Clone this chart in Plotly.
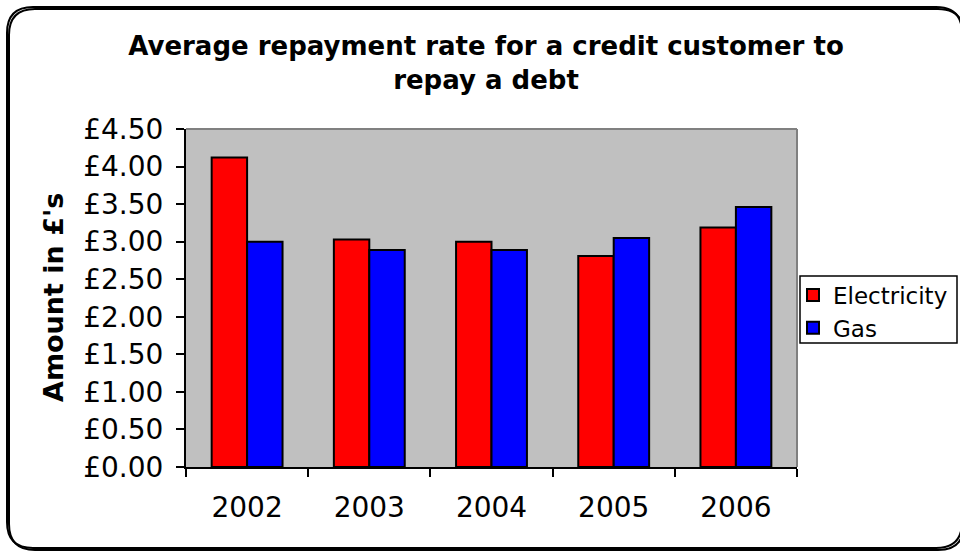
import plotly.graph_objects as go

# Chart data
years = ["2002", "2003", "2004", "2005", "2006"]
electricity = [4.12, 3.03, 3.00, 2.81, 3.19]
gas = [3.00, 2.89, 2.89, 3.05, 3.46]

y_ticks = [0.0, 0.5, 1.0, 1.5, 2.0, 2.5, 3.0, 3.5, 4.0, 4.5]
y_tick_labels = [f"£{v:.2f}" for v in y_ticks]

W, H = 960, 551
ML, MR, MT, MB = 186, 163, 129, 84
PW, PH = W - ML - MR, H - MT - MB

FONT = "DejaVu Sans, Verdana, sans-serif"


def px(x):
    return (x - ML) / PW


def py(y):
    return (H - MB - y) / PH


def rounded_rect(x0, y0, x1, y1, r):
    pts = [
        ("M", (x0 + r, y0)),
        ("L", (x1 - r, y0)),
        ("Q", (x1, y0), (x1, y0 + r)),
        ("L", (x1, y1 - r)),
        ("Q", (x1, y1), (x1 - r, y1)),
        ("L", (x0 + r, y1)),
        ("Q", (x0, y1), (x0, y1 - r)),
        ("L", (x0, y0 + r)),
        ("Q", (x0, y0), (x0 + r, y0)),
    ]
    out = []
    for cmd, *coords in pts:
        out.append(cmd + " " + " ".join(f"{px(a):.5f},{py(b):.5f}" for a, b in coords))
    return " ".join(out) + " Z"


fig = go.Figure()
fig.add_trace(go.Bar(
    name="Electricity", x=years, y=electricity,
    marker=dict(color="#FF0000", line=dict(color="black", width=2)),
))
fig.add_trace(go.Bar(
    name="Gas", x=years, y=gas,
    marker=dict(color="#0000FF", line=dict(color="black", width=2)),
))

fig.update_layout(
    width=W, height=H,
    margin=dict(l=ML, r=MR, t=MT, b=MB, pad=0, autoexpand=False),
    paper_bgcolor="white",
    plot_bgcolor="#C0C0C0",
    barmode="group",
    bargap=0.42,
    bargroupgap=0,
    font=dict(family=FONT, color="black"),
    title=dict(
        text="<b>Average repayment rate for a credit customer to<br>repay a debt</b>",
        x=486 / W, xanchor="center", xref="container",
        y=1 - 55 / H, yanchor="middle", yref="container",
        font=dict(size=26, family=FONT),
    ),
    showlegend=True,
    legend=dict(
        x=px(793), xanchor="left", y=py(311.5), yanchor="middle",
        bgcolor="rgba(0,0,0,0)", borderwidth=0,
        font=dict(size=23, family=FONT),
    ),
    xaxis=dict(
        showline=True, linecolor="black", linewidth=2,
        ticks="outside", ticklen=8, tickwidth=2, tickcolor="black",
        tickson="boundaries", ticklabelstandoff=14,
        tickfont=dict(size=28, family=FONT),
        showgrid=False, mirror=False, automargin=False,
    ),
    yaxis=dict(
        range=[0, 4.5], tickvals=y_ticks, ticktext=y_tick_labels,
        showline=True, linecolor="black", linewidth=2,
        ticks="outside", ticklen=8, tickwidth=2, tickcolor="black",
        ticklabelstandoff=7,
        tickfont=dict(size=28, family=FONT),
        showgrid=False, zeroline=False, automargin=False,
    ),
    annotations=[dict(
        text="<b>Amount in £'s</b>", textangle=-90,
        x=px(53), y=0.5, xref="paper", yref="paper",
        xanchor="center", yanchor="middle", showarrow=False,
        font=dict(size=27, family=FONT),
    )],
    shapes=[
        # grey frame along the top and right of the plot area
        dict(type="line", xref="paper", yref="paper", x0=0, y0=1, x1=1, y1=1,
             line=dict(color="#808080", width=2)),
        dict(type="line", xref="paper", yref="paper", x0=1, y0=0, x1=1, y1=1,
             line=dict(color="#808080", width=2)),
        # legend box
        dict(type="rect", xref="paper", yref="paper",
             x0=px(800), x1=px(957), y0=py(343), y1=py(276),
             fillcolor="white", line=dict(color="black", width=1.5)),
        # drop shadow of the chart border
        dict(type="path", xref="paper", yref="paper",
             path=rounded_rect(9, 9, 964, 550, 26),
             line=dict(color="black", width=2)),
        # rounded chart border
        dict(type="path", xref="paper", yref="paper",
             path=rounded_rect(7, 7, 962, 548, 26),
             line=dict(color="black", width=2)),
    ],
)

fig.write_html("out.html")
